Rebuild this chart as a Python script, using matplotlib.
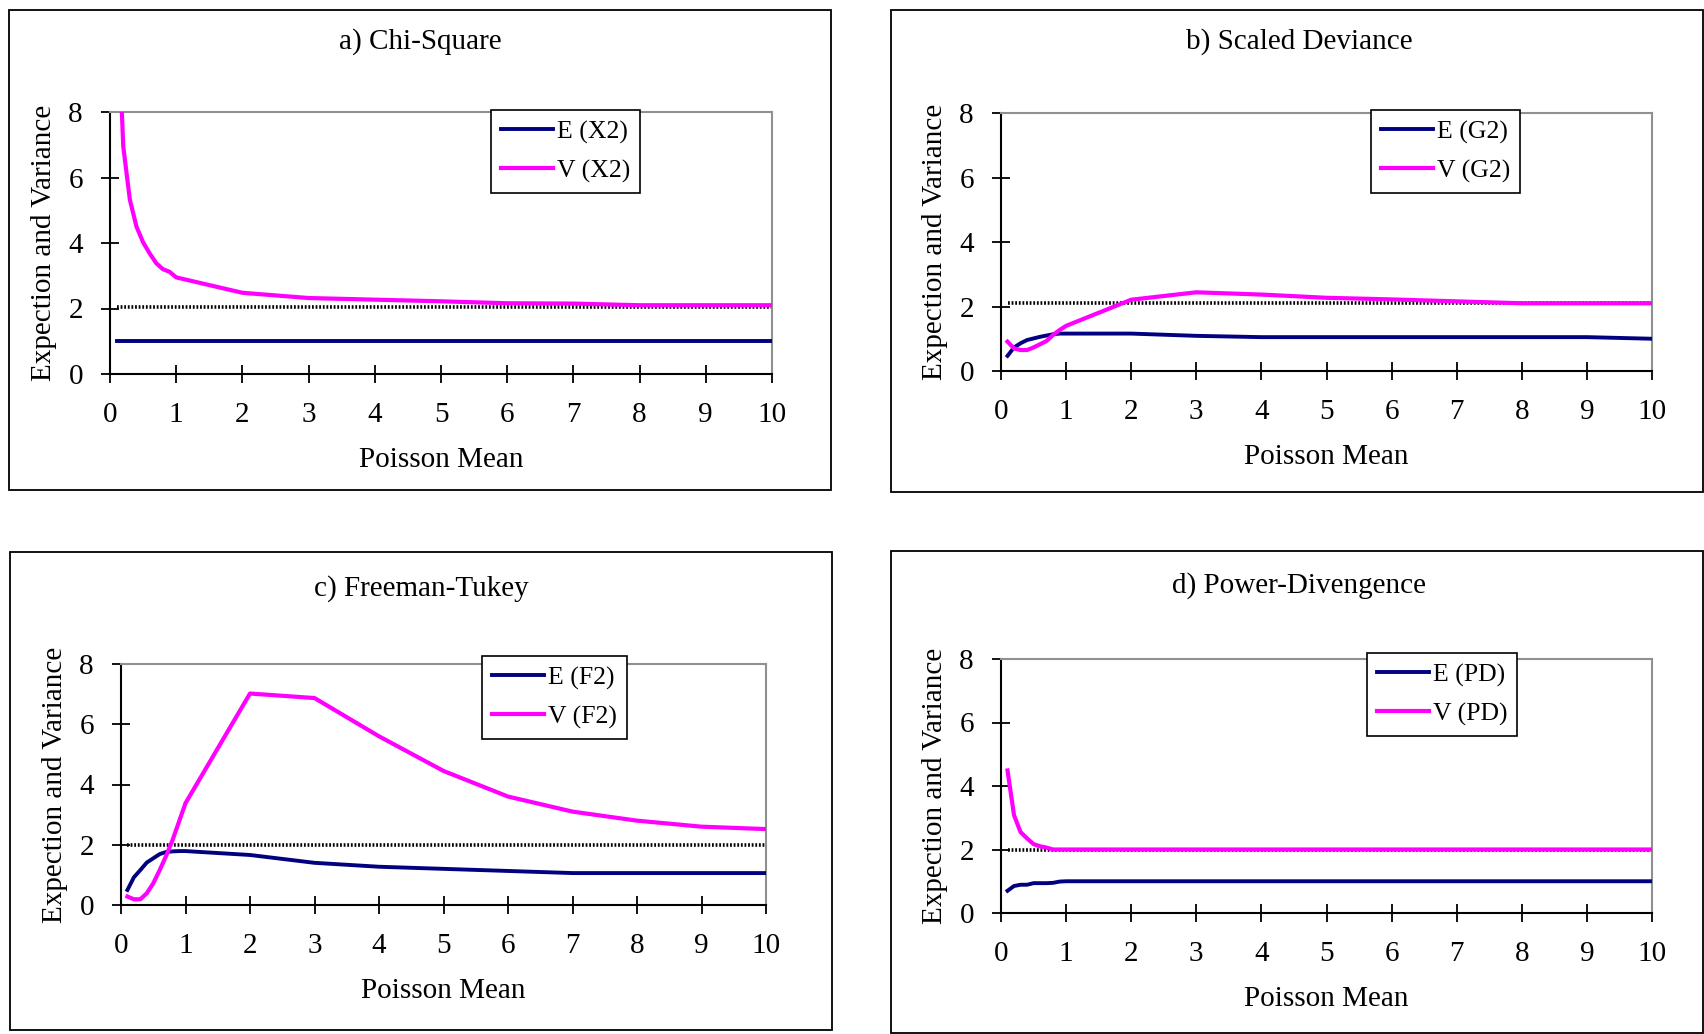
import matplotlib
matplotlib.use('Agg')
import matplotlib.pyplot as plt
from matplotlib.patches import Rectangle

plt.rcParams['font.family'] = ['Liberation Serif', 'DejaVu Serif']

# poisson means used in the simulation
x_mean = [0.1, 0.2, 0.3, 0.4, 0.5, 0.6, 0.7, 0.8, 0.9, 1.0, 2, 3, 4, 5, 6, 7, 8, 9, 10]

# a) chi-square
e_x2 = [1.0]*19
v_x2 = [12.0, 6.95, 5.32, 4.5, 4.02, 3.68, 3.38, 3.2, 3.12, 2.95, 2.48, 2.32, 2.27, 2.22, 2.16, 2.15, 2.1, 2.1, 2.1]
ref_x2 = 2.05

# b) scaled deviance
e_g2 = [0.47, 0.73, 0.86, 0.96, 1.01, 1.06, 1.1, 1.14, 1.16, 1.16, 1.16, 1.09, 1.05, 1.05, 1.05, 1.05, 1.05, 1.05, 1.0]
v_g2 = [0.91, 0.7, 0.65, 0.65, 0.73, 0.83, 0.93, 1.12, 1.27, 1.4, 2.21, 2.44, 2.37, 2.27, 2.22, 2.16, 2.1, 2.1, 2.1]
ref_g2 = 2.1

# c) freeman-tukey
e_f2 = [0.5, 0.92, 1.16, 1.41, 1.55, 1.69, 1.76, 1.78, 1.79, 1.79, 1.66, 1.4, 1.27, 1.2, 1.13, 1.06, 1.06, 1.06, 1.06]
v_f2 = [0.28, 0.19, 0.19, 0.39, 0.72, 1.16, 1.63, 2.16, 2.77, 3.38, 7.02, 6.87, 5.6, 4.45, 3.6, 3.1, 2.8, 2.6, 2.52]
ref_f2 = 2.0

# d) power-divergence
e_pd = [0.7, 0.85, 0.89, 0.89, 0.94, 0.94, 0.94, 0.95, 0.99, 1.0, 1.0, 1.0, 1.0, 1.0, 1.0, 1.0, 1.0, 1.0, 1.0]
v_pd = [4.49, 3.08, 2.55, 2.35, 2.17, 2.1, 2.06, 2.0, 2.0, 2.0, 2.0, 2.0, 2.0, 2.0, 2.0, 2.0, 2.0, 2.0, 2.0]
ref_pd = 2.0

titles = ['a) Chi-Square', 'b) Scaled Deviance', 'c) Freeman-Tukey', 'd) Power-Divengence']
labels = [('E (X2)', 'V (X2)'), ('E (G2)', 'V (G2)'), ('E (F2)', 'V (F2)'), ('E (PD)', 'V (PD)')]
e_all = [e_x2, e_g2, e_f2, e_pd]
v_all = [v_x2, v_g2, v_f2, v_pd]
refs = [ref_x2, ref_g2, ref_f2, ref_pd]

W, H = 1704, 1034
fig = plt.figure(figsize=(W/100, H/100), dpi=100)

def fx(px):
    return px/W

def fy(py):
    return 1 - py/H

# pixel layout: outer box, axes box, title y, legend top-left
boxes = [(9, 10, 831, 490), (891, 10, 1703, 492), (10, 552, 832, 1030), (891, 551, 1703, 1033)]
axboxes = [(110, 112, 772, 374), (1001, 113, 1652, 371), (121, 664, 766, 905), (1001, 659, 1652, 913)]
title_y = [42, 42, 589, 586]
leg_pos = [(491, 110), (1371, 110), (482, 656), (1367, 653)]

for i in range(4):
    x0, y0, x1, y1 = boxes[i]
    fig.patches.append(Rectangle((fx(x0), fy(y1)), fx(x1-x0), (y1-y0)/H, transform=fig.transFigure,
                                 fill=False, edgecolor='black', lw=1.3))
    a0, b0, a1, b1 = axboxes[i]
    ax = fig.add_axes([fx(a0), fy(b1), fx(a1-a0), (b1-b0)/H])
    ax.plot(x_mean, [refs[i]]*len(x_mean), color='black', lw=2.6, ls=(0, (0.5, 0.5)), zorder=2)
    le, = ax.plot(x_mean, e_all[i], color='#000080', lw=2.8, zorder=3)
    lv, = ax.plot(x_mean, v_all[i], color='#FF00FF', lw=3.0, zorder=4)
    ax.set_xlim(0, 10)
    ax.set_ylim(0, 8)
    ax.set_xticks(range(0, 11))
    ax.set_yticks([0, 2, 4, 6, 8])
    for s in ['top', 'right']:
        ax.spines[s].set_color('#909090')
        ax.spines[s].set_linewidth(1.5)
    for s in ['left', 'bottom']:
        ax.spines[s].set_color('black')
        ax.spines[s].set_linewidth(1.5)
    ax.tick_params(direction='inout', length=13, width=1.3, labelsize=21, pad=13)
    ax.tick_params(axis='x', pad=14)
    ax.set_xlabel('Poisson Mean', fontsize=21, labelpad=13)
    ax.set_ylabel('Expection and Variance', fontsize=21, labelpad=8)
    cx = (x0 + x1)/2 if i % 2 == 0 else (x0 + 1716)/2 - 4
    fig.text(fx(cx), fy(title_y[i]), titles[i], ha='center', va='center', fontsize=21)
    lx, ly = leg_pos[i]
    leg = ax.legend([le, lv], labels[i], loc='upper left', bbox_to_anchor=(fx(lx), fy(ly)),
                    bbox_transform=fig.transFigure, fontsize=18.5, frameon=True, fancybox=False,
                    framealpha=1, edgecolor='black', handlelength=2.0, handletextpad=0.15,
                    labelspacing=0.6, borderpad=0.4, borderaxespad=0)
    leg.get_frame().set_linewidth(1.2)
    leg.set_zorder(10)

fig.savefig('out.png', dpi=100)
